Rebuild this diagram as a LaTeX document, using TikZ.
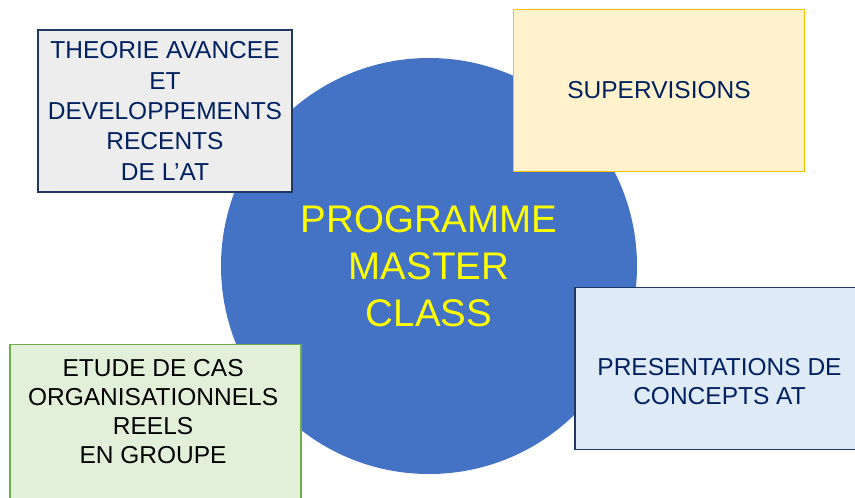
\documentclass[tikz,border=0pt]{standalone}
\usepackage{fontspec}
\setmainfont{Liberation Sans}
\usetikzlibrary{positioning}
\definecolor{hubblue}{HTML}{4472C4}
\definecolor{hubyellow}{HTML}{FFFF00}
\definecolor{navytext}{HTML}{002060}
\definecolor{navyline}{HTML}{203864}
\definecolor{greyfill}{HTML}{EDEDED}
\definecolor{creamfill}{HTML}{FFF2CC}
\definecolor{goldline}{HTML}{FFC000}
\definecolor{paleblue}{HTML}{DEEBF7}
\definecolor{palegreen}{HTML}{E2F0D9}
\definecolor{greenline}{HTML}{70AD47}

\begin{document}
\begin{tikzpicture}[x=1pt, y=-1pt,
		topic/.style={draw, line width=1.3pt, inner sep=0pt, minimum height=162pt, align=center},
		topictext/.style={align=center, inner sep=0pt, text=navytext, font=\fontsize{24.5}{29}\selectfont}]
		%%%%% START %%%%%
		
		\useasboundingbox (0, 0) rectangle (855, 498);
		\clip (0, 0) rectangle (855, 498);
		
		\node[circle, fill=hubblue, minimum size=416pt, inner sep=0pt, align=center, text=hubyellow,
			font=\fontsize{38.5}{47}\selectfont] (hub) at (429, 266) {PROGRAMME\\MASTER\\CLASS};
		
		\node[topic, topictext, fill=greyfill, draw=navyline, minimum width=254pt,
			font=\fontsize{24.5}{30.4}\selectfont] (theory) at (165, 111)
			{THEORIE AVANCEE\\ET\\DEVELOPPEMENTS\\RECENTS\\DE L'AT};
		
		\node[topic, topictext, fill=creamfill, draw=goldline, minimum width=291pt] (supervision) at (659, 90.5) {SUPERVISIONS};
		
		\node[topic, fill=paleblue, draw=navyline, minimum width=289pt] (concepts) at (719.5, 368.3) {};
		\node[topictext] (conceptstext) at ([yshift=-13pt]concepts.center) {PRESENTATIONS DE\\CONCEPTS AT};
		
		\node[topic, fill=palegreen, draw=greenline, minimum width=291pt] (cases) at (155.6, 425.3) {};
		\node[topictext, text=black] (casestext) at ([xshift=-2.5pt, yshift=14pt]cases.center)
			{ETUDE DE CAS\\ORGANISATIONNELS\\REELS\\EN GROUPE};
		
		%%%%% END %%%%%
	\end{tikzpicture}
\end{document}
